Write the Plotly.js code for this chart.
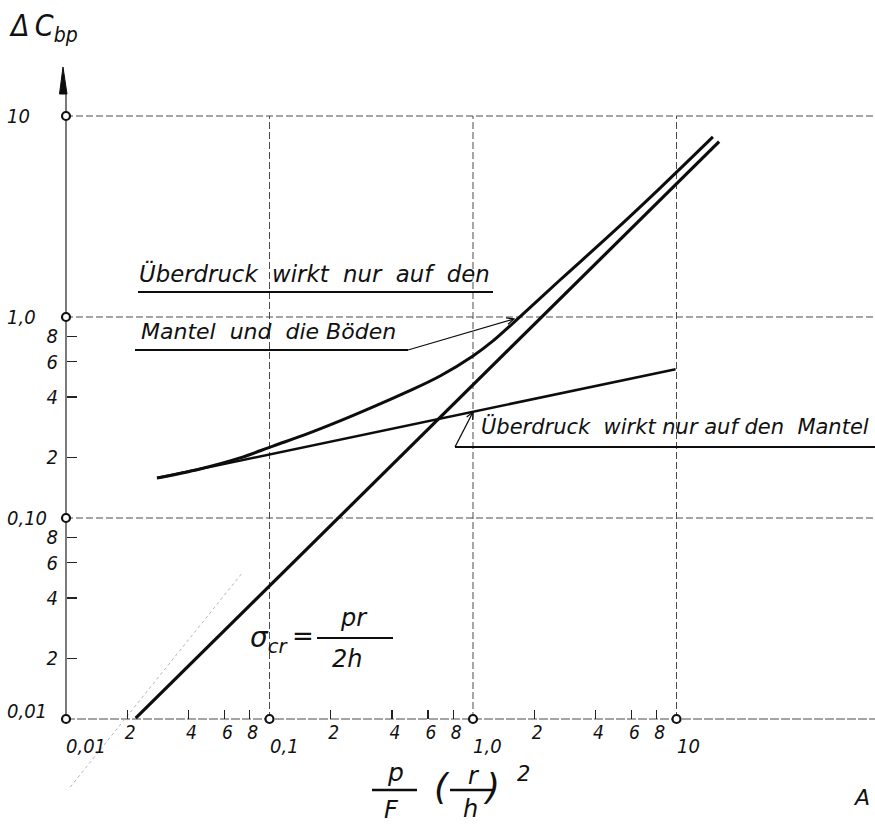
<!DOCTYPE html>
<html>
<head>
<meta charset="utf-8">
<script src="https://cdn.plot.ly/plotly-3.0.1.min.js"></script>
<style>
  html, body { margin: 0; padding: 0; background: #fff; }
  #chart { width: 875px; height: 825px; }
</style>
</head>
<body>
<div id="chart"></div>
<script>
// Logarithmic decades on both axes
const decadeTicks = [0.01, 0.1, 1, 10];
const xDecadeLabels = ['0,01', '0,1', '1,0', '10'];
const yDecadeLabels = ['0,01', '0,10', '1,0', '10'];
const xMinorTicks = [0.02, 0.04, 0.06, 0.08, 0.2, 0.4, 0.6, 0.8, 2, 4, 6, 8];
const xMinorLabels = ['2', '4', '6', '8', '2', '4', '6', '8', '2', '4', '6', '8'];
const yMinorTicks = [0.02, 0.04, 0.06, 0.08, 0.2, 0.4, 0.6, 0.8];
const yMinorLabels = ['2', '4', '6', '8', '2', '4', '6', '8'];

// sigma_cr = p r / 2h
const sigmaX = [0.022, 16.2];
const sigmaY = [0.0101, 7.45];

// overpressure acting on the shell only
const mantelX = [0.028, 9.9];
const mantelY = [0.158, 0.55];

// overpressure acting on the shell and the heads
const boedenX = [0.028, 0.0455, 0.0716, 0.104, 0.153, 0.222, 0.323, 0.474, 0.689, 1.0, 1.254, 1.574, 2.676, 4.71, 8.30, 15.1];
const boedenY = [0.158, 0.1754, 0.199, 0.228, 0.262, 0.304, 0.357, 0.424, 0.509, 0.640, 0.760, 0.933, 1.528, 2.56, 4.38, 7.87];

// faint pencil construction line near the origin
const pencilX = [0.0105, 0.0733];
const pencilY = [0.00459, 0.0532];

const W = 875, H = 825;
const PX = v => v / W;
const PY = v => 1 - v / H;

const TEXT_FONT = "DejaVu Sans, sans-serif";
const NARROW_FONT = "DejaVu Sans Condensed, DejaVu Sans, sans-serif";
const INK = '#0d0d0d';
const GRID = '#4a4a4a';

const traces = [];

// grid: decade lines
decadeTicks.slice(1).forEach(v => {
  traces.push({ x: [0.01, 100], y: [v, v], mode: 'lines',
    line: { color: GRID, width: 1, dash: '7px,3px' } });
  traces.push({ x: [v, v], y: [0.01, 10], mode: 'lines',
    line: { color: GRID, width: 1, dash: '7px,3px' } });
});
// abscissa line
traces.push({ x: [0.01, 100], y: [0.01, 0.01], mode: 'lines',
  line: { color: GRID, width: 1, dash: '9px,2px' } });
// ordinate line
traces.push({ x: [0.01, 0.01], y: [0.01, 13], mode: 'lines',
  line: { color: '#222', width: 1.2 } });

traces.push({ x: pencilX, y: pencilY, mode: 'lines',
  line: { color: '#b5b5b5', width: 1, dash: '3px,3px' } });

traces.push({ x: mantelX, y: mantelY, mode: 'lines',
  line: { color: INK, width: 2.6 } });
traces.push({ x: boedenX, y: boedenY, mode: 'lines',
  line: { color: INK, width: 3, shape: 'spline', smoothing: 1 } });
traces.push({ x: sigmaX, y: sigmaY, mode: 'lines',
  line: { color: INK, width: 3.2 } });

// decade marks on both axes
traces.push({
  x: decadeTicks.map(() => 0.01).concat(decadeTicks.slice(1)),
  y: decadeTicks.concat(decadeTicks.slice(1).map(() => 0.01)),
  mode: 'markers',
  marker: { symbol: 'circle', size: 8, color: '#fff', line: { color: '#111', width: 2.2 } }
});

const italic = (family, size) => ({ family: family, size: size, color: '#111', style: 'italic' });

const annotations = [];
const note = (x, y, text, font, xanchor) => annotations.push({
  xref: 'paper', yref: 'paper', x: PX(x), y: PY(y), text: text, showarrow: false,
  xanchor: xanchor || 'center', yanchor: 'middle', font: font });

// decade labels
decadeTicks.forEach((v, i) => {
  annotations.push({ xref: 'x', yref: 'y', x: Math.log10(v), y: -2, text: xDecadeLabels[i],
    showarrow: false, xanchor: 'left', yanchor: 'middle', xshift: -2, yshift: -27,
    font: italic(NARROW_FONT, 20) });
  annotations.push({ xref: 'paper', yref: 'y', x: PX(5), y: Math.log10(v), text: yDecadeLabels[i],
    showarrow: false, xanchor: 'left', yanchor: 'middle', yshift: v === 0.01 ? 8 : 0,
    font: italic(NARROW_FONT, 20) });
});

// axis titles
note(7, 28, 'Δ\u2009C<sub>bp</sub>', italic(NARROW_FONT, 30), 'left');
note(395, 772, 'p', italic(TEXT_FONT, 25));
note(391, 810, 'F', italic(TEXT_FONT, 24));
note(442, 786, '(', italic(TEXT_FONT, 36));
note(474, 776, 'r', italic(TEXT_FONT, 24));
note(470, 809, 'h', italic(TEXT_FONT, 24));
note(491, 786, ')', italic(TEXT_FONT, 36));
note(523, 774, '2', italic(TEXT_FONT, 21));

// formula
note(248, 639, 'σ<sub>cr</sub>', italic(TEXT_FONT, 28), 'left');
note(303, 636, '=', italic(TEXT_FONT, 26));
note(354, 618, 'pr', italic(TEXT_FONT, 24));
note(347, 659, '2h', italic(TEXT_FONT, 24));

// curve captions
const NB = '\u00a0';
note(137, 274, ['Überdruck', 'wirkt', 'nur', 'auf', 'den'].join(NB + NB), italic(TEXT_FONT, 22.8), 'left');
note(139, 332, 'Mantel' + NB + NB + 'und' + NB + NB + 'die' + NB + 'Böden', italic(TEXT_FONT, 22), 'left');
note(479, 426, 'Überdruck' + NB + NB + 'wirkt' + NB + 'nur' + NB + 'auf' + NB + 'den' + NB + NB + 'Mantel',
  italic(TEXT_FONT, 21), 'left');

// sheet mark at the right edge
note(851, 797, 'A', italic(TEXT_FONT, 22), 'left');

const line = (x0, y0, x1, y1, w) => ({ type: 'line', xref: 'paper', yref: 'paper',
  x0: PX(x0), y0: PY(y0), x1: PX(x1), y1: PY(y1), line: { color: INK, width: w || 2 } });

// leader line with a small open arrowhead at (hx, hy)
const leader = (tx, ty, hx, hy) => {
  const dx = tx - hx, dy = ty - hy, len = Math.hypot(dx, dy);
  const bx = dx / len, by = dy / len, a = 25 * Math.PI / 180, L = 8;
  const p1 = [hx + L * (bx * Math.cos(a) - by * Math.sin(a)), hy + L * (bx * Math.sin(a) + by * Math.cos(a))];
  const p2 = [hx + L * (bx * Math.cos(a) + by * Math.sin(a)), hy + L * (-bx * Math.sin(a) + by * Math.cos(a))];
  return [
    line(tx, ty, hx, hy, 1.3),
    { type: 'path', xref: 'paper', yref: 'paper', line: { color: INK, width: 1.3 },
      path: `M ${PX(p1[0])},${PY(p1[1])} L ${PX(hx)},${PY(hy)} L ${PX(p2[0])},${PY(p2[1])}` }
  ];
};

const shapes = [
  line(138, 292, 493, 292, 2.2),
  line(135, 350, 408, 350, 2.2),
  line(455, 447, 875, 447, 2),
  line(372, 790, 417, 790, 2.4),
  line(450, 790, 493, 790, 2.4),
  line(317, 638, 393, 638, 2.2),
  ...leader(408, 350, 514, 319),
  ...leader(455, 447, 473, 412),
  { type: 'path', xref: 'paper', yref: 'paper', fillcolor: INK, line: { color: INK, width: 1 },
    path: `M ${PX(63)},${PY(67)} L ${PX(67)},${PY(94)} L ${PX(59.5)},${PY(94)} Z` }
];

const layout = {
  width: W, height: H,
  margin: { l: 0, r: 0, t: 0, b: 0, pad: 0 },
  paper_bgcolor: '#fff', plot_bgcolor: '#fff',
  showlegend: false,
  xaxis: {
    type: 'log', range: [-2 - 66 / 203.5, -2 + 809 / 203.5],
    anchor: 'free', position: 1 - 719 / H,
    showgrid: false, zeroline: false, showline: false,
    ticks: 'inside', ticklen: 9, tickwidth: 1.3, tickcolor: '#222',
    tickmode: 'array', tickvals: xMinorTicks, ticktext: xMinorLabels,
    ticklabelshift: 3,
    tickfont: italic(NARROW_FONT, 19), fixedrange: true
  },
  yaxis: {
    type: 'log', range: [-2 - 106 / 201, -2 + 719 / 201],
    anchor: 'free', position: 66 / W,
    showgrid: false, zeroline: false, showline: false,
    ticks: 'inside', ticklen: 10, tickwidth: 1.3, tickcolor: '#222',
    tickmode: 'array', tickvals: yMinorTicks, ticktext: yMinorLabels,
    ticklabelstandoff: 8,
    tickfont: italic(NARROW_FONT, 20), fixedrange: true
  },
  annotations: annotations,
  shapes: shapes
};

Plotly.newPlot('chart', traces, layout, { staticPlot: true, displayModeBar: false });
</script>
</body>
</html>
